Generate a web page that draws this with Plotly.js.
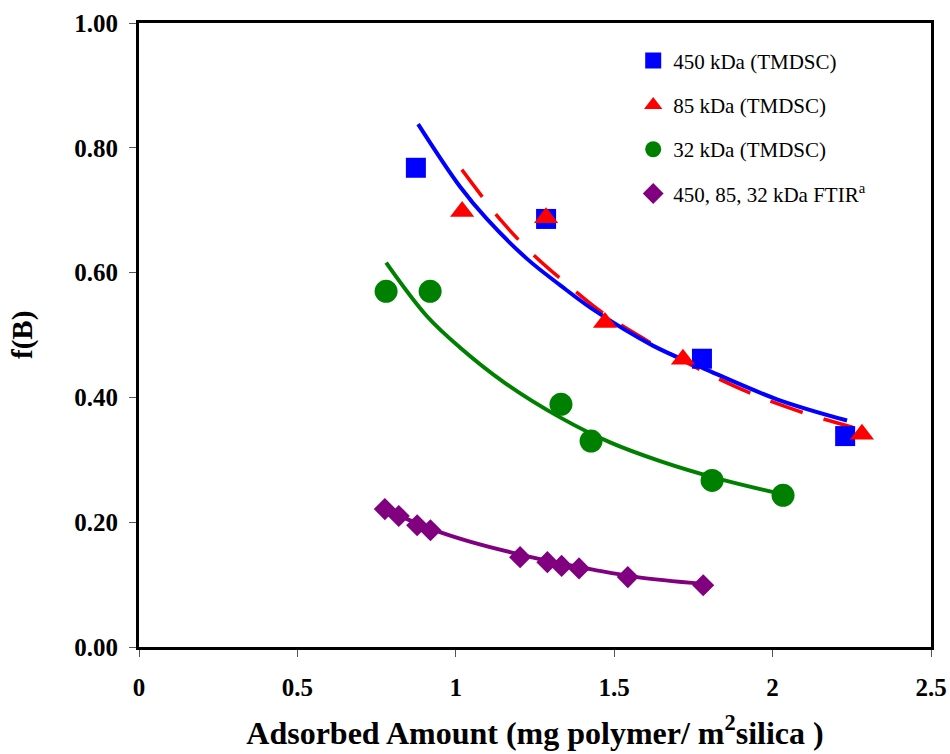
<!DOCTYPE html>
<html>
<head>
<meta charset="utf-8">
<script src="https://cdn.plot.ly/plotly-3.0.1.min.js"></script>
<style>html,body{margin:0;padding:0;background:#fff;}#chart{width:950px;height:754px;}</style>
</head>
<body>
<div id="chart"></div>
<script>
// Measured data points
const x450 = [0.874, 1.285, 1.777, 2.229];
const y450 = [0.768, 0.686, 0.462, 0.338];

const x85 = [1.020, 1.285, 1.471, 1.717, 2.282];
const y85 = [0.698, 0.688, 0.520, 0.461, 0.341];

const x32 = [0.780, 0.919, 1.332, 1.427, 1.809, 2.033];
const y32 = [0.570, 0.570, 0.389, 0.330, 0.267, 0.243];

const xFTIR = [0.776, 0.820, 0.878, 0.920, 1.203, 1.289, 1.334, 1.389, 1.543, 1.781];
const yFTIR = [0.221, 0.210, 0.195, 0.187, 0.144, 0.136, 0.130, 0.126, 0.112, 0.099];

// Trend curves
const fit450X = [0.881, 1.013, 1.098, 1.225, 1.329, 1.433, 1.622, 1.780, 2.014, 2.235];
const fit450Y = [0.838, 0.738, 0.686, 0.622, 0.580, 0.541, 0.483, 0.447, 0.397, 0.363];

const fit85X = [1.019, 1.098, 1.149, 1.244, 1.350, 1.465, 1.600, 1.720, 1.828, 1.938, 2.004, 2.118, 2.254];
const fit85Y = [0.765, 0.712, 0.680, 0.629, 0.582, 0.535, 0.492, 0.458, 0.430, 0.405, 0.392, 0.372, 0.352];

const fit32X = [0.780, 0.909, 1.013, 1.150, 1.329, 1.487, 1.645, 1.834, 2.055];
const fit32Y = [0.616, 0.530, 0.480, 0.425, 0.368, 0.328, 0.298, 0.269, 0.242];

const fitFX = [0.776, 0.850, 0.950, 1.050, 1.171, 1.300, 1.433, 1.572, 1.781];
const fitFY = [0.222, 0.204, 0.184, 0.168, 0.152, 0.137, 0.124, 0.112, 0.101];

const names = ['450 kDa (TMDSC)', '85 kDa (TMDSC)', '32 kDa (TMDSC)', '450, 85, 32 kDa FTIR<sup>a</sup>'];
const xTickVals = [0, 0.5, 1, 1.5, 2, 2.5];
const xTickText = ['0', '0.5', '1', '1.5', '2', '2.5'];
const yTickVals = [0, 0.2, 0.4, 0.6, 0.8, 1.0];
const yTickText = ['0.00', '0.20', '0.40', '0.60', '0.80', '1.00'];
const xTitle = 'Adsorbed Amount (mg polymer/ m<sup>2</sup>silica )';
const yTitle = 'f(B)';

const serif = 'Liberation Serif, Times New Roman, serif';

const traces = [
  {x: fit85X, y: fit85Y, mode: 'lines', line: {color: '#FF0000', width: 3.5, dash: '34px,22px', shape: 'spline'}, showlegend: false, hoverinfo: 'skip'},
  {x: fit450X, y: fit450Y, mode: 'lines', line: {color: '#0000FF', width: 4, shape: 'spline'}, showlegend: false, hoverinfo: 'skip'},
  {x: fit32X, y: fit32Y, mode: 'lines', line: {color: '#008000', width: 4, shape: 'spline'}, showlegend: false, hoverinfo: 'skip'},
  {x: fitFX, y: fitFY, mode: 'lines', line: {color: '#800080', width: 4, shape: 'spline'}, showlegend: false, hoverinfo: 'skip'},
  {x: x450, y: y450, mode: 'markers', name: names[0], legendgroup: 'a', marker: {symbol: 'square', size: 20, color: '#0000FF'}},
  {x: x85, y: y85, mode: 'markers', name: names[1], legendgroup: 'b', marker: {symbol: 'triangle-up', size: 21, color: '#FF0000'}},
  {x: x32, y: y32, mode: 'markers', name: names[2], legendgroup: 'c', marker: {symbol: 'circle', size: 23, color: '#008000'}},
  {x: xFTIR, y: yFTIR, mode: 'markers', name: names[3], legendgroup: 'd', marker: {symbol: 'diamond', size: 17, color: '#800080'}}
];

const layout = {
  width: 950, height: 754,
  margin: {l: 139, r: 19, t: 23, b: 107},
  paper_bgcolor: '#fff', plot_bgcolor: '#fff',
  font: {family: serif, color: '#000'},
  showlegend: true,
  legend: {
    x: 0.624, y: 0.972, xanchor: 'left', yanchor: 'top',
    font: {family: serif, size: 21, color: '#000'},
    traceorder: 'grouped', tracegroupgap: 14,
    bgcolor: 'rgba(0,0,0,0)', itemsizing: 'trace'
  },
  xaxis: {
    range: [0, 2.5], tickvals: xTickVals, ticktext: xTickText,
    showgrid: false, zeroline: false,
    showline: true, linecolor: '#000', linewidth: 3, mirror: true,
    ticks: 'outside', ticklen: 7, tickwidth: 1, tickcolor: '#555',
    ticklabelstandoff: 9,
    tickfont: {family: serif, size: 25, color: '#000', weight: 'bold'},
    title: {text: xTitle, font: {family: serif, size: 32, color: '#000', weight: 'bold'}, standoff: 22}
  },
  yaxis: {
    range: [0, 1.0], tickvals: yTickVals, ticktext: yTickText,
    showgrid: false, zeroline: false,
    showline: true, linecolor: '#000', linewidth: 3, mirror: true,
    ticks: 'outside', ticklen: 7, tickwidth: 1, tickcolor: '#555',
    ticklabelstandoff: 6,
    tickfont: {family: serif, size: 25, color: '#000', weight: 'bold'}
  },
  annotations: [
    {text: yTitle, xref: 'paper', yref: 'paper', x: -0.1477, y: 0.5, xanchor: 'center', yanchor: 'middle',
     textangle: -90, showarrow: false, font: {family: serif, size: 29, color: '#000', weight: 'bold'}}
  ]
};

Plotly.newPlot('chart', traces, layout, {displayModeBar: false, staticPlot: true});
</script>
</body>
</html>
